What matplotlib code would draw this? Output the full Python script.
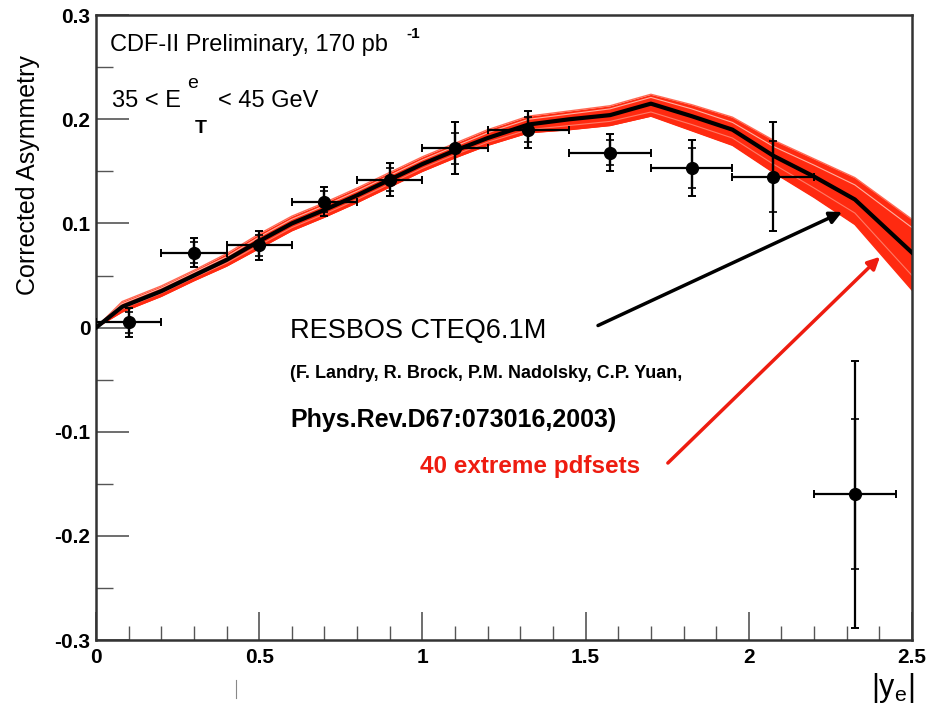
import numpy as np
import matplotlib
matplotlib.use("Agg")
import matplotlib.pyplot as plt
from matplotlib.lines import Line2D

plt.rcParams['font.family'] = ['Liberation Sans', 'DejaVu Sans']
plt.rcParams['mathtext.fontset'] = 'custom'
plt.rcParams['mathtext.rm'] = 'Liberation Sans'
plt.rcParams['mathtext.it'] = 'Liberation Sans:italic'
plt.rcParams['mathtext.bf'] = 'Liberation Sans:bold'

# CDF data points (|y_e| bins)
bin_lo = [0.0, 0.2, 0.4, 0.6, 0.8, 1.0, 1.2, 1.45, 1.7, 1.95, 2.2]
bin_hi = [0.2, 0.4, 0.6, 0.8, 1.0, 1.2, 1.45, 1.7, 1.95, 2.2, 2.45]
asym = [0.005, 0.072, 0.079, 0.121, 0.142, 0.172, 0.190, 0.168, 0.153, 0.145, -0.160]
err_tot = [0.014, 0.014, 0.014, 0.014, 0.016, 0.025, 0.018, 0.018, 0.027, 0.052, 0.128]
err_stat = [0.010, 0.010, 0.010, 0.010, 0.011, 0.015, 0.012, 0.012, 0.019, 0.034, 0.072]

# RESBOS CTEQ6.1M central prediction
th_x = [0.0, 0.08, 0.2, 0.3, 0.4, 0.5, 0.6, 0.7, 0.8, 0.9, 1.0, 1.1, 1.2,
        1.325, 1.45, 1.575, 1.7, 1.825, 1.95, 2.075, 2.2, 2.325, 2.5]
th_y = [0.0, 0.020, 0.035, 0.050, 0.065, 0.083, 0.100, 0.113, 0.127, 0.142,
        0.157, 0.170, 0.182, 0.195, 0.200, 0.204, 0.215, 0.203, 0.190, 0.165,
        0.145, 0.123, 0.072]
# envelope of the 40 extreme pdf sets
pdf_hi = [0.0, 0.025, 0.040, 0.055, 0.071, 0.090, 0.107, 0.120, 0.134, 0.149,
          0.164, 0.177, 0.190, 0.203, 0.208, 0.213, 0.224, 0.214, 0.202, 0.180,
          0.162, 0.144, 0.104]
pdf_lo = [0.0, 0.015, 0.030, 0.045, 0.059, 0.076, 0.093, 0.106, 0.120, 0.135,
          0.150, 0.163, 0.175, 0.187, 0.190, 0.194, 0.203, 0.189, 0.175, 0.149,
          0.125, 0.099, 0.036]
# a few individual pdf-set curves that stand out near the upper edge
pdf_a = [0.0, 0.023, 0.038, 0.053, 0.068, 0.087, 0.104, 0.117, 0.131, 0.146,
         0.161, 0.174, 0.187, 0.200, 0.205, 0.210, 0.221, 0.210, 0.197, 0.174,
         0.156, 0.137, 0.096]
pdf_b = [0.0, 0.018, 0.033, 0.048, 0.062, 0.079, 0.096, 0.109, 0.123, 0.138,
         0.153, 0.166, 0.178, 0.190, 0.194, 0.198, 0.207, 0.195, 0.182, 0.157,
         0.134, 0.110, 0.050]

bin_lo = np.array(bin_lo); bin_hi = np.array(bin_hi)
ctr = 0.5 * (bin_lo + bin_hi)
xerr = 0.5 * (bin_hi - bin_lo)

fig = plt.figure(figsize=(9.35, 7.2), dpi=100)
ax = fig.add_axes([0.1027, 0.111, 0.8727, 0.868])

# red band of pdf sets
ax.fill_between(th_x, pdf_lo, pdf_hi, color='#ff2a10', lw=0, zorder=2)
ax.plot(th_x, pdf_hi, color='#ff6a55', lw=1.0, zorder=2)
ax.plot(th_x, pdf_a, color='#ffb0a0', lw=0.8, zorder=2)
ax.plot(th_x, pdf_b, color='#ff7a66', lw=0.8, zorder=2)
ax.plot(th_x, pdf_lo, color='#ff2a10', lw=1.0, zorder=2)
# central curve
ax.plot(th_x, th_y, color='black', lw=3, zorder=3)

# data: total errors with caps, stat errors as inner ticks
ax.errorbar(ctr, asym, xerr=xerr, yerr=err_tot, fmt='o', color='black',
            ms=8.5, elinewidth=1.6, capsize=3, capthick=1.4, zorder=5)
ax.errorbar(ctr, asym, yerr=err_stat, fmt='none', ecolor='black',
            elinewidth=1.6, capsize=3, capthick=1.2, zorder=5)

ax.set_xlim(0, 2.5)
ax.set_ylim(-0.3, 0.3)
ax.set_xticks([0, 0.5, 1, 1.5, 2, 2.5])
ax.set_xticklabels(['0', '0.5', '1', '1.5', '2', '2.5'])
ax.set_xticks(np.arange(0, 2.51, 0.1), minor=True)
ax.set_yticks([-0.3, -0.2, -0.1, 0, 0.1, 0.2, 0.3])
ax.set_yticklabels(['-0.3', '-0.2', '-0.1', '0', '0.1', '0.2', '0.3'])
ax.set_yticks(np.arange(-0.3, 0.301, 0.05), minor=True)
ax.tick_params(axis='both', which='both', direction='in', top=False, right=False,
               color='#555555')
ax.tick_params(axis='y', which='major', length=24, width=1.2, labelsize=15, pad=4)
ax.tick_params(axis='y', which='minor', length=12, width=1.0)
ax.tick_params(axis='x', which='major', length=20, width=1.2, labelsize=15, pad=6)
ax.tick_params(axis='x', which='minor', length=10, width=1.0)
for lab in ax.get_xticklabels() + ax.get_yticklabels():
    lab.set_fontweight('bold')
for sp in ax.spines.values():
    sp.set_linewidth(1.8)
    sp.set_color('#333333')

# labels
fig.text(0.030, 0.757, 'Corrected Asymmetry', rotation=90, ha='center', va='center',
         fontsize=18)
fig.text(0.955, 0.045, '|y$_{\\mathrm{e}}$|', ha='center', va='center', fontsize=22)

ax.text(0.043, 0.271, 'CDF-II Preliminary, 170 pb', fontsize=17, va='center')
ax.text(0.95, 0.282, '-1', fontsize=11, va='center', fontweight='bold')
# ROOT-style E_T^e with the indices stacked
ax.text(0.049, 0.218, '35 < E', fontsize=17, va='center')
ax.text(0.297, 0.234, 'e', fontsize=14, va='center', ha='center')
ax.text(0.322, 0.191, 'T', fontsize=14, va='center', ha='center', fontweight='bold')
ax.text(0.375, 0.218, '< 45 GeV', fontsize=17, va='center')

ax.text(0.594, -0.003, 'RESBOS CTEQ6.1M', fontsize=19.5, va='center')
ax.text(0.594, -0.044, '(F. Landry, R. Brock, P.M. Nadolsky, C.P. Yuan,', fontsize=13,
        va='center', fontweight='bold')
ax.text(0.594, -0.089, 'Phys.Rev.D67:073016,2003)', fontsize=18, va='center',
        fontweight='bold')
ax.text(0.993, -0.133, '40 extreme pdfsets', fontsize=17.5, va='center',
        fontweight='bold', color='#ee1c10')

ax.annotate('', xy=(2.286, 0.111), xytext=(1.538, 0.002),
            arrowprops=dict(arrowstyle='-|>', color='black', lw=2.5,
                            mutation_scale=18, shrinkA=0, shrinkB=0), zorder=6)
ax.annotate('', xy=(2.402, 0.068), xytext=(1.752, -0.130),
            arrowprops=dict(arrowstyle='-|>', color='#ee1c10', lw=2.5,
                            mutation_scale=18, shrinkA=0, shrinkB=0), zorder=6)

# small scan artefact below the axis
fig.add_artist(Line2D([0.2525, 0.2525], [0.03, 0.055], color='#888888', lw=0.8))

fig.savefig('out.png', dpi=100)
